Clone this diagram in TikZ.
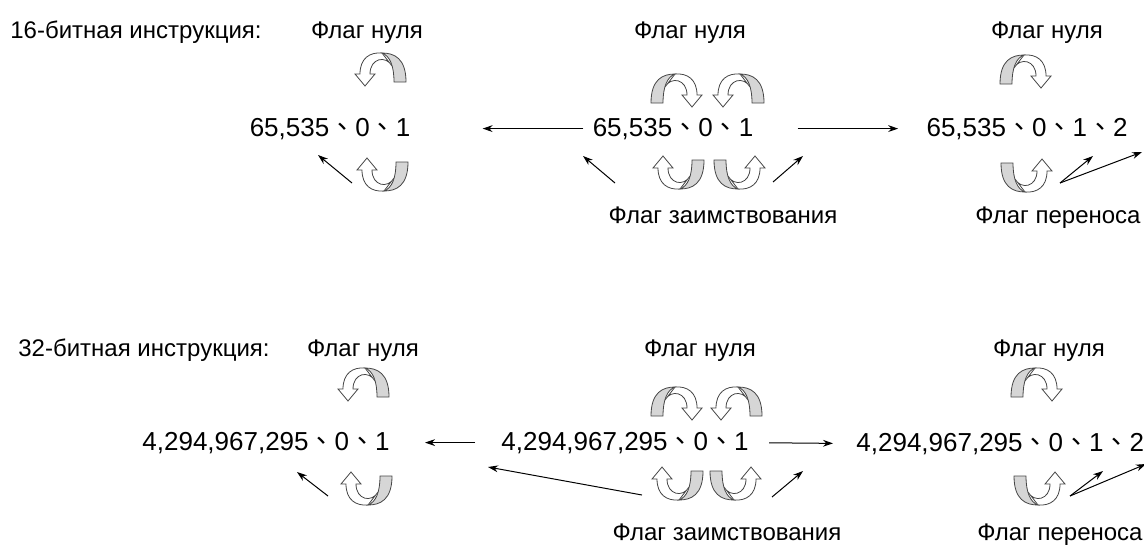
\documentclass[tikz,border=0pt]{standalone}
\usepackage{fontspec}
\setmainfont{Liberation Sans}
\newfontfamily\cjk{Noto Sans CJK TC}
\usepackage{tikz}
\usetikzlibrary{arrows.meta,positioning}

\definecolor{bandgray}{RGB}{214,214,214}
\definecolor{inkgray}{RGB}{70,70,70}
\newcommand{\tsep}{{\cjk 、}}

\tikzset{
  curl/.pic={
    \filldraw[curlline,fill=white] (-2,-17) .. controls (10,-18) and (20,-12) .. (20,4)
      -- (25,4) -- (15,16) -- (5,4) -- (10,4) .. controls (10,-12) and (-6,-15) .. (-12,-4) -- cycle;
    \filldraw[curlline,fill=bandgray] (-26,12) .. controls (-26,-12) and (-14,-17) .. (-2,-17)
      .. controls (-10,-14) and (-14,-4) .. (-14,12) -- cycle;
  }
}

\begin{document}
\begin{tikzpicture}[
  x=0.5pt, y=-0.5pt,
  titletext/.style={font=\fontsize{12pt}{14pt}\selectfont,inner sep=0pt,anchor=base west},
  flagtext/.style={font=\fontsize{12pt}{14pt}\selectfont,inner sep=0pt,anchor=base},
  numtext/.style={font=\fontsize{13pt}{15pt}\selectfont,inner sep=0pt,anchor=base},
  link/.style={-{Stealth[length=5pt,width=3.4pt]},line width=0.5pt},
  curlline/.style={line width=0.4pt,draw=inkgray}
]
\useasboundingbox (0,0) rectangle (1144,547);
\clip (0,0) rectangle (1144,547);

% 16-bit row
\node[titletext] (t16) at (10,38) {16-битная инструкция:};
\node[flagtext] (z1) at (367,38) {Флаг нуля};
\node[flagtext] (z2) at (690,38) {Флаг нуля};
\node[flagtext] (z3) at (1047,38) {Флаг нуля};

\node[numtext] (n1) at (330,136) {65,535\tsep 0\tsep 1};
\node[numtext] (n2) at (673,136) {65,535\tsep 0\tsep 1};
\node[numtext] (n3) at (1027,136) {65,535\tsep 0\tsep 1\tsep 2};

\node[flagtext] (b1) at (723,223) {Флаг заимствования};
\node[flagtext] (c1) at (1058,223) {Флаг переноса};

\draw[link,shorten <=4.5pt,shorten >=36pt] (n2.west) -- (n1.east);
\draw[link,shorten <=22pt,shorten >=14pt] (n2.east) -- (n3.west);

% 32-bit row
\node[titletext] (t32) at (18,356) {32-битная инструкция:};
\node[flagtext] (z4) at (363,356) {Флаг нуля};
\node[flagtext] (z5) at (700,356) {Флаг нуля};
\node[flagtext] (z6) at (1049,356) {Флаг нуля};

\node[numtext] (n4) at (266,450) {4,294,967,295\tsep 0\tsep 1};
\node[numtext] (n5) at (625,450) {4,294,967,295\tsep 0\tsep 1};
\node[numtext,anchor=base west] (n6) at (856,451) {4,294,967,295\tsep 0\tsep 1\tsep 2};

\node[flagtext] (b2) at (727,540) {Флаг заимствования};
\node[flagtext] (c2) at (1060,540) {Флаг переноса};

\draw[link,shorten <=13pt,shorten >=17.5pt] (n5.west) -- (n4.east);
\draw[link,shorten <=10pt,shorten >=11.5pt] (n5.east) -- (n6.west);

% Curved flag arrows
\foreach \x/\y/\sx/\sy in {380/70/-1/1, 382/174/-1/-1,
    677/91/1/1, 738/91/-1/1, 678/172/-1/-1, 740/172/1/-1,
    1026/72/1/1, 1027/175/1/-1,
    363/385/-1/1, 366/488/-1/-1,
    677/404/1/1, 736/404/-1/1, 677/483/-1/-1, 736/483/1/-1,
    1037/385/1/1, 1040/488/1/-1}
  \pic[xscale=\sx,yscale=\sy] at (\x,\y) {curl};

% Small pointers
\coordinate (p1) at (352,183);  \coordinate (q1) at (318,155);
\coordinate (p2) at (615,183);  \coordinate (q2) at (583,156);
\coordinate (p3) at (773,182);  \coordinate (q3) at (803,156);
\coordinate (p4) at (1060,183); \coordinate (q4) at (1093,156);
\coordinate (q5) at (1142,152);
\draw[link] (p1) -- (q1);
\draw[link] (p2) -- (q2);
\draw[link] (p3) -- (q3);
\draw[link] (p4) -- (q4);
\draw[link] (p4) -- (q5);

\coordinate (p6) at (328,496);  \coordinate (q6) at (297,472);
\coordinate (p7) at (642,495);  \coordinate (q7) at (488,467);
\coordinate (p8) at (772,497);  \coordinate (q8) at (803,471);
\coordinate (p9) at (1070,496); \coordinate (q9) at (1103,471);
\coordinate (q10) at (1146,464);
\draw[link] (p6) -- (q6);
\draw[link] (p7) -- (q7);
\draw[link] (p8) -- (q8);
\draw[link] (p9) -- (q9);
\draw[link] (p9) -- (q10);

\end{tikzpicture}
\end{document}
